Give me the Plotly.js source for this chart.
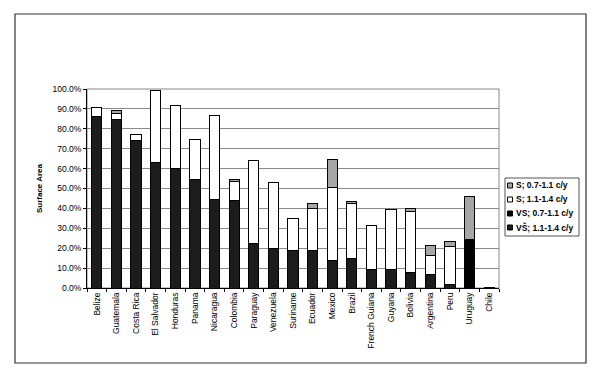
<!DOCTYPE html>
<html>
<head>
<meta charset="utf-8">
<script src="https://cdn.plot.ly/plotly-3.0.1.min.js"></script>
<style>html,body{margin:0;padding:0;background:#fff;}#chart{width:600px;height:380px;}</style>
</head>
<body>
<div id="chart"></div>
<script>
const countries = ["Belize","Guatemala","Costa Rica","El Salvador","Honduras","Panama","Nicaragua","Colombia","Paraguay","Venezuela","Suriname","Ecuador","Mexico","Brazil","French Guiana","Guyana","Bolivia","Argentina","Peru","Uruguay","Chile"];
// VŠ; 1.1-1.4 c/y (bottom of stack)
const vs_11_14 = [86.3,84.9,73.9,63.3,60.0,54.4,44.7,44.1,22.4,20.1,18.6,18.9,13.9,14.9,9.5,9.2,7.9,6.9,2.0,0,0];
// VS; 0.7-1.1 c/y
const vs_07_11 = [0,0,0,0,0,0,0,0,0,0,0,0,0,0,0,0,0,0,0,24.3,0.5];
// S; 1.1-1.4 c/y
const s_11_14 = [4.2,3.0,3.0,35.9,31.6,20.3,42.1,9.5,41.6,32.7,16.2,21.0,36.7,27.5,21.7,30.2,30.5,9.2,18.9,0,0];
// S; 0.7-1.1 c/y (top of stack)
const s_07_11 = [0,1.2,0,0,0,0,0,0.8,0,0,0,2.5,13.9,1.3,0,0,1.5,5.5,2.4,21.9,0];
const seriesNames = ["VŠ; 1.1-1.4 c/y","VS; 0.7-1.1 c/y","S; 1.1-1.4 c/y","S; 0.7-1.1 c/y"];
const yTicks = [0,10,20,30,40,50,60,70,80,90,100];
const yTickText = yTicks.map(v => v.toFixed(1) + "%");

const colors = ["#1c1c1c","#000000","#ffffff","#a6a6a6"];
const seriesValues = [vs_11_14, vs_07_11, s_11_14, s_07_11];
const line = {color:"#000", width:1};
const traces = seriesValues.map((vals, i) => ({
  type:"bar", name:seriesNames[i], x:countries, y:vals,
  marker:{color:colors[i], line:line}, showlegend:false
}));

// plot area in pixels: left 87, right 499, top 89, bottom 288
const L = 87, R = 499, T = 89, B = 288;
const px = x => (x - L) / (R - L);
const py = y => (B - y) / (B - T);

// Excel-style legend box: top entry = last series
const shapes = [
  {type:"rect", xref:"paper", yref:"paper", x0:0, x1:1, y0:0, y1:1, line:{color:"#888", width:1}, layer:"below"},
  {type:"rect", xref:"paper", yref:"paper", x0:px(15), x1:px(586), y0:py(363), y1:py(14), line:{color:"#333", width:1.2}},
  {type:"rect", xref:"paper", yref:"paper", x0:px(505), x1:px(579), y0:py(236), y1:py(178), line:{color:"#555", width:1}, fillcolor:"#fff"}
];
const annotations = [];
const order = [3,2,1,0];
order.forEach((si, row) => {
  const cy = 185 + row * 14;
  shapes.push({type:"rect", xref:"paper", yref:"paper", x0:px(507.5), x1:px(512.5), y0:py(cy + 3), y1:py(cy - 2),
               line:{color:"#000", width:1}, fillcolor:colors[si]});
  annotations.push({xref:"paper", yref:"paper", x:px(513.5), y:py(cy), xanchor:"left", yanchor:"middle",
                    text:"<b>" + seriesNames[si] + "</b>", showarrow:false,
                    font:{size:8.5, color:"#000", family:"Liberation Sans, Arial, sans-serif"}});
});

const layout = {
  width:600, height:380,
  margin:{l:L, r:600 - R, t:T, b:380 - B, pad:0},
  paper_bgcolor:"#fff", plot_bgcolor:"#fff",
  barmode:"stack", bargap:0.48,
  font:{family:"Liberation Sans, Arial, sans-serif", size:8.5, color:"#000"},
  showlegend:false,
  xaxis:{type:"category", tickangle:-90, showgrid:false, showline:true, linecolor:"#000", linewidth:1,
         ticks:"outside", ticklen:3, tickcolor:"#000", tickson:"boundaries",
         tickfont:{size:8.5, color:"#000"}, automargin:false},
  yaxis:{range:[0,100], tickvals:yTicks, ticktext:yTickText, showgrid:true, gridcolor:"#8a8a8a", gridwidth:1,
         showline:true, linecolor:"#000", linewidth:1, ticks:"outside", ticklen:3, tickcolor:"#000",
         zeroline:false, tickfont:{size:8.5, color:"#000"},
         title:{text:"<b>Surface Area</b>", font:{size:8, color:"#000"}, standoff:8}, automargin:false},
  shapes:shapes,
  annotations:annotations
};
Plotly.newPlot("chart", traces, layout, {staticPlot:true, displayModeBar:false});
</script>
</body>
</html>
